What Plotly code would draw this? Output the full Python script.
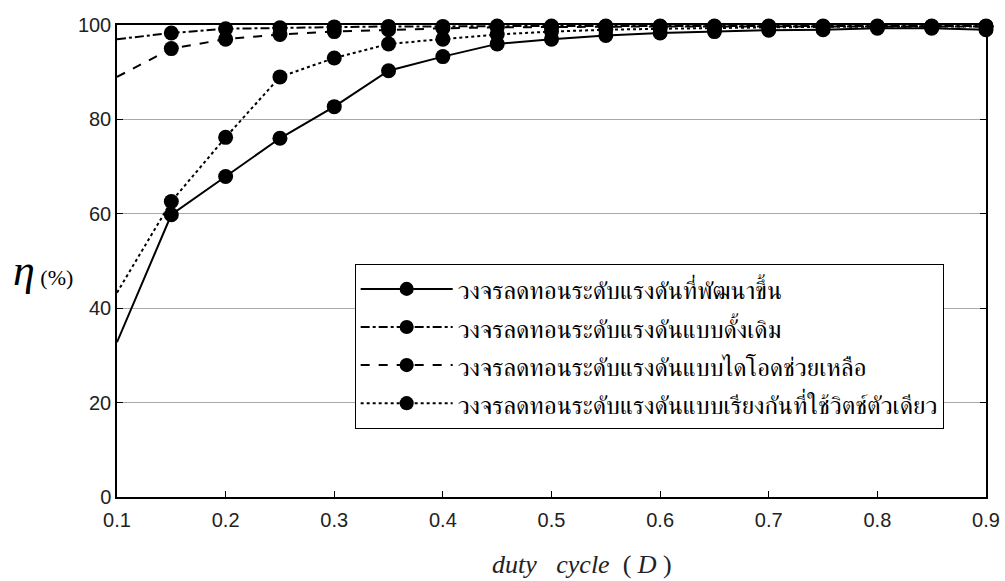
import plotly.graph_objects as go

duty = [0.1, 0.15, 0.2, 0.25, 0.3, 0.35, 0.4, 0.45, 0.5, 0.55, 0.6, 0.65, 0.7, 0.75, 0.8, 0.85, 0.9]

eff_developed = [32.8, 59.8, 67.9, 76.0, 82.7, 90.3, 93.3, 96.0, 97.0, 97.8, 98.3, 98.6, 98.9, 99.0, 99.3, 99.3, 99.0]
eff_conventional = [97.0, 98.3, 99.2, 99.4, 99.6, 99.7, 99.7, 99.8, 99.8, 99.8, 99.8, 99.8, 99.8, 99.8, 99.8, 99.8, 99.8]
eff_diode = [89.0, 95.0, 97.0, 98.0, 98.6, 99.0, 99.3, 99.5, 99.6, 99.7, 99.7, 99.7, 99.7, 99.7, 99.7, 99.7, 99.7]
eff_sync = [43.3, 62.6, 76.2, 89.0, 93.0, 96.0, 97.0, 98.0, 98.6, 99.0, 99.2, 99.4, 99.5, 99.6, 99.7, 99.7, 99.7]

names = [
    "วงจรลดทอนระดับแรงดันที่พัฒนาขึ้น",
    "วงจรลดทอนระดับแรงดันแบบดั้งเดิม",
    "วงจรลดทอนระดับแรงดันแบบไดโอดช่วยเหลือ",
    "วงจรลดทอนระดับแรงดันแบบเรียงกันที่ใช้วิตช์ตัวเดียว",
]
series = [eff_developed, eff_conventional, eff_diode, eff_sync]
dashes = ["solid", "dashdot", "dash", "dot"]

x_ticks = [0.1, 0.2, 0.3, 0.4, 0.5, 0.6, 0.7, 0.8, 0.9]
y_ticks = [0, 20, 40, 60, 80, 100]

marker_sizes = [0] + [15] * (len(duty) - 1)

THAI = "FreeSerif, Noto Serif Thai, serif"

fig = go.Figure()
for name, ys, dash in zip(names, series, dashes):
    fig.add_trace(go.Scatter(
        x=duty, y=ys, name=f"<span style='font-size:25px'>{name}</span>", mode="lines+markers",
        line=dict(color="black", width=2, dash=dash),
        marker=dict(color="black", size=marker_sizes, symbol="circle", opacity=1,
                    line=dict(width=0)),
        cliponaxis=False,
    ))

fig.update_layout(
    width=1005, height=581,
    margin=dict(l=117, r=19, t=25, b=84),
    paper_bgcolor="white", plot_bgcolor="white",
    showlegend=True,
    legend=dict(
        x=0.2735, y=0.494, xanchor="left", yanchor="top",
        bgcolor="white", bordercolor="black", borderwidth=1,
        font=dict(family=THAI, size=27, color="black"),
        itemwidth=92, tracegroupgap=0,
    ),
    xaxis=dict(
        range=[0.1, 0.9], tickvals=x_ticks, ticktext=[f"{v:g}" for v in x_ticks],
        ticks="inside", ticklen=6, tickcolor="black", automargin=False,
        showline=True, linecolor="black", linewidth=1.5, mirror="ticks",
        showgrid=False, zeroline=False, ticklabelstandoff=4,
        tickfont=dict(family="Liberation Sans, Arial", size=20, color="#222"),
    ),
    yaxis=dict(
        range=[0, 100], tickvals=y_ticks, automargin=False,
        ticks="inside", ticklen=6, tickcolor="black",
        showline=True, linecolor="black", linewidth=1.5, mirror="ticks",
        showgrid=True, gridcolor="#aaaaaa", gridwidth=1, zeroline=False,
        tickfont=dict(family="Liberation Sans, Arial", size=20, color="#222"),
    ),
    annotations=[dict(
        xref="paper", yref="paper", x=-0.122, y=0.48, xanchor="left", yanchor="middle",
        showarrow=False,
        text="<i><span style='font-size:44px'>η</span></i><span style='font-size:22px'> (%)</span>",
        font=dict(family="Liberation Serif, Times New Roman", color="black"),
    ), dict(
        xref="paper", yref="paper", x=0.5346, y=-0.144, xanchor="center", yanchor="middle",
        showarrow=False,
        text="<i>duty</i>&nbsp;&nbsp;&nbsp;<i>cycle</i>&nbsp;&nbsp;(&nbsp;<i>D</i>&nbsp;)",
        font=dict(family="Liberation Serif, Times New Roman", size=26, color="#222"),
    )],
)

fig.write_html("out.html")
